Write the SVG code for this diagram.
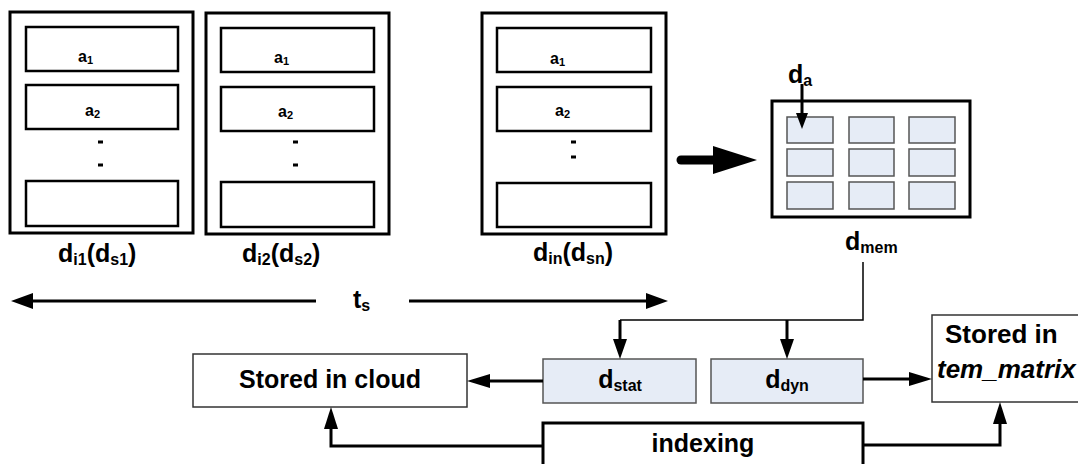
<svg xmlns="http://www.w3.org/2000/svg" width="1078" height="464" viewBox="0 0 1078 464">
<style>
text{font-family:"Liberation Sans",Arial,sans-serif;font-weight:bold;fill:#000}
.outer{fill:#fff;stroke:#000;stroke-width:3}
.inner{fill:#fff;stroke:#000;stroke-width:2.5}
.cell{fill:#e6ecf6;stroke:#555;stroke-width:1.5}
.plain{fill:#fff;stroke:#333;stroke-width:1.5}
.small{font-size:16px}
.big{font-size:25px}
.sub{font-size:16px}
.s10{font-size:11px}
.dash{fill:#000}
.line{fill:none;stroke:#000;stroke-width:3}
.thin{fill:none;stroke:#000;stroke-width:1.5}
.head{fill:#000}
</style>
<g id="record1">
<rect class="outer" x="10" y="12" width="183" height="221"/>
<rect class="inner" x="26" y="27" width="152" height="44"/>
<rect class="inner" x="26" y="85" width="152" height="44"/>
<rect class="inner" x="26" y="181" width="152" height="45"/>
<text class="small" x="78" y="62">a<tspan class="s10" dy="2">1</tspan></text>
<text class="small" x="85" y="116">a<tspan class="s10" dy="2">2</tspan></text>
<rect class="dash" x="98" y="140.5" width="5" height="3"/>
<rect class="dash" x="98" y="163.5" width="5" height="3"/>
<text class="big" x="58" y="262">d<tspan class="sub" dy="3">i1</tspan><tspan dy="-3">(d</tspan><tspan class="sub" dy="3">s1</tspan><tspan dy="-3">)</tspan></text>
</g>
<g id="record2">
<rect class="outer" x="206" y="13" width="183" height="221"/>
<rect class="inner" x="221" y="28" width="153" height="44"/>
<rect class="inner" x="221" y="87" width="153" height="44"/>
<rect class="inner" x="221" y="182" width="153" height="45"/>
<text class="small" x="274" y="63">a<tspan class="s10" dy="2">1</tspan></text>
<text class="small" x="278" y="117">a<tspan class="s10" dy="2">2</tspan></text>
<rect class="dash" x="293" y="140.5" width="5" height="3"/>
<rect class="dash" x="293" y="163.5" width="5" height="3"/>
<text class="big" x="242" y="262">d<tspan class="sub" dy="3">i2</tspan><tspan dy="-3">(d</tspan><tspan class="sub" dy="3">s2</tspan><tspan dy="-3">)</tspan></text>
</g>
<g id="recordn">
<rect class="outer" x="482" y="13" width="184" height="221"/>
<rect class="inner" x="497" y="28" width="154" height="44"/>
<rect class="inner" x="497" y="87" width="154" height="44"/>
<rect class="inner" x="497" y="183" width="154" height="44"/>
<text class="small" x="550" y="64">a<tspan class="s10" dy="2">1</tspan></text>
<text class="small" x="555" y="116">a<tspan class="s10" dy="2">2</tspan></text>
<rect class="dash" x="571" y="140.5" width="5" height="3"/>
<rect class="dash" x="571" y="155.5" width="5" height="3"/>
<text class="big" x="533" y="261">d<tspan class="sub" dy="3">in</tspan><tspan dy="-3">(d</tspan><tspan class="sub" dy="3">sn</tspan><tspan dy="-3">)</tspan></text>
</g>
<g id="dmem">
<rect class="outer" x="772" y="101" width="198" height="116"/>
<rect class="cell" x="787" y="117" width="46" height="26"/>
<rect class="cell" x="849" y="117" width="45" height="26"/>
<rect class="cell" x="909" y="117" width="46" height="26"/>
<rect class="cell" x="787" y="149" width="46" height="27"/>
<rect class="cell" x="849" y="149" width="45" height="27"/>
<rect class="cell" x="909" y="149" width="46" height="27"/>
<rect class="cell" x="787" y="182" width="46" height="27"/>
<rect class="cell" x="849" y="182" width="45" height="27"/>
<rect class="cell" x="909" y="182" width="46" height="27"/>
<text class="big" x="845" y="250">d<tspan class="sub" dy="3">mem</tspan></text>
<text class="big" x="788" y="83">d<tspan class="sub" dy="3">a</tspan></text>
</g>
<g id="ts">
<text class="big" x="353" y="308">t<tspan class="sub" dy="3">s</tspan></text>
</g>
<g id="cloud">
<rect class="plain" x="193" y="354" width="274" height="53"/>
<text class="big" x="330" y="388" text-anchor="middle">Stored in cloud</text>
</g>
<g id="dstat">
<rect class="cell" x="543" y="359" width="153" height="44"/>
<text class="big" x="620" y="388" text-anchor="middle">d<tspan class="sub" dy="3">stat</tspan></text>
</g>
<g id="ddyn">
<rect class="cell" x="711" y="359" width="152" height="44"/>
<text class="big" x="787" y="388" text-anchor="middle">d<tspan class="sub" dy="3">dyn</tspan></text>
</g>
<g id="tem">
<rect class="plain" x="932" y="315" width="160" height="87"/>
<text class="big" x="945" y="343" style="font-size:26px">Stored in</text>
<text class="big" x="937" y="378" style="font-size:26px;font-style:italic">tem_matrix</text>
</g>
<g id="indexing">
<rect class="outer" x="543" y="423" width="320" height="50"/>
<text class="big" x="703" y="452" text-anchor="middle">indexing</text>
</g>
<g id="connectors">
<line x1="681" y1="160" x2="716" y2="160" stroke="#000" stroke-width="9" stroke-linecap="round"/>
<polygon class="head" points="713,146 757,160 713,174"/>
<line class="line" x1="802" y1="84" x2="802" y2="114"/>
<polygon class="head" points="796,113 808,113 802,129"/>
<line class="line" x1="316" y1="301" x2="30" y2="301"/>
<polygon class="head" points="33,293 11,301 33,309"/>
<line class="line" x1="409" y1="301" x2="648" y2="301"/>
<polygon class="head" points="646,293 668,301 646,309"/>
<polyline class="thin" points="863,262 863,320 620,320"/>
<line class="line" x1="620" y1="320" x2="620" y2="340"/>
<polygon class="head" points="613,339 627,339 620,359"/>
<line class="line" x1="787" y1="320" x2="787" y2="340"/>
<polygon class="head" points="780,339 794,339 787,359"/>
<line class="line" x1="543" y1="381" x2="488" y2="381"/>
<polygon class="head" points="490,374 467,381 490,388"/>
<line class="line" x1="863" y1="379" x2="911" y2="379"/>
<polygon class="head" points="909,372 932,379 909,386"/>
<polyline class="line" points="543,446 331,446 331,428"/>
<polygon class="head" points="324,429 338,429 331,407"/>
<polyline class="line" points="863,445 1000,445 1000,423"/>
<polygon class="head" points="993,424 1007,424 1000,402"/>
</g>
</svg>
